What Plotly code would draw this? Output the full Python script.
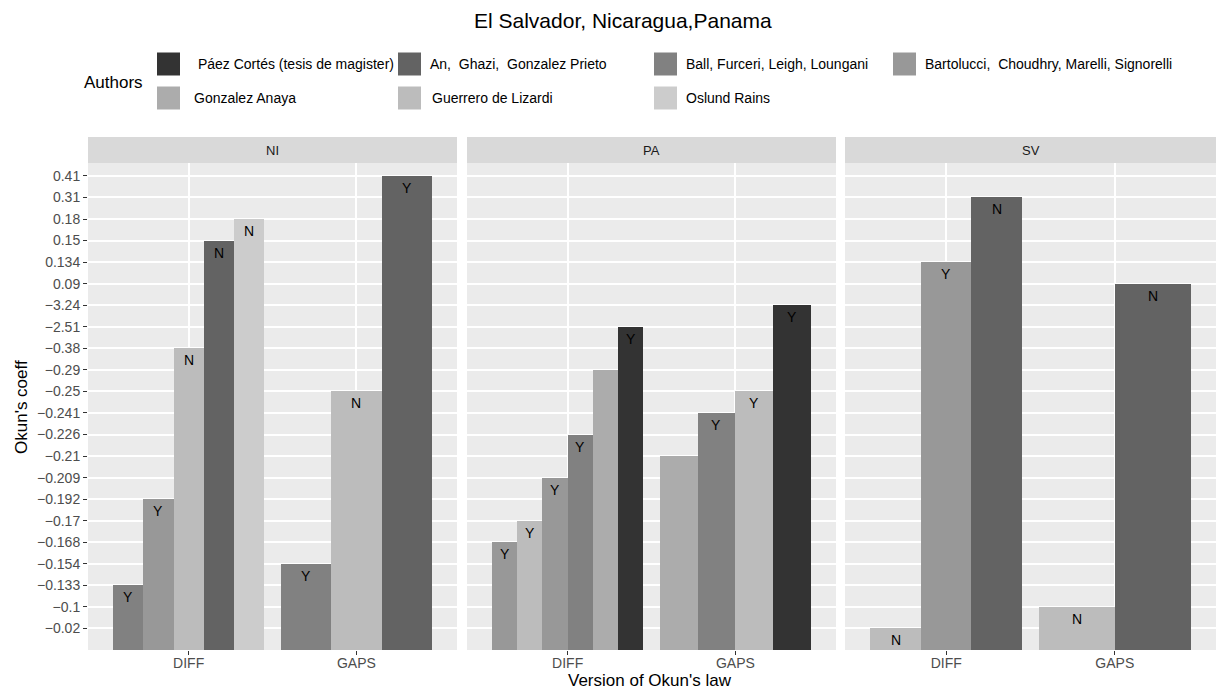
import plotly.graph_objects as go

# ---------------- data ----------------
TITLE = "El Salvador, Nicaragua,Panama"
countries = ["NI", "PA", "SV"]
versions = ["DIFF", "GAPS"]
authors = [
    " Páez Cortés (tesis de magister)",
    "An,\u00a0 Ghazi,\u00a0 Gonzalez Prieto",
    "Ball, Furceri, Leigh, Loungani",
    "Bartolucci,\u00a0 Choudhry, Marelli, Signorelli",
    "Gonzalez Anaya",
    "Guerrero de Lizardi",
    "Oslund Rains",
]
author_colors = ["#333333", "#636363", "#818181", "#989898", "#ACACAC", "#BCBCBC", "#CCCCCC"]

# y axis is categorical (coefficients stored as text, sorted as strings)
coef_levels = ["-0.02", "-0.1", "-0.133", "-0.154", "-0.168", "-0.17", "-0.192", "-0.209",
               "-0.21", "-0.226", "-0.241", "-0.25", "-0.29", "-0.38", "-2.51", "-3.24",
               "0.09", "0.134", "0.15", "0.18", "0.31", "0.41"]

bar_country = ["NI"] * 8 + ["PA"] * 10 + ["SV"] * 5
bar_version = (["DIFF"] * 5 + ["GAPS"] * 3 + ["DIFF"] * 6 + ["GAPS"] * 4
               + ["DIFF"] * 3 + ["GAPS"] * 2)
bar_author = [2, 3, 5, 1, 6, 2, 5, 1,
              3, 5, 3, 2, 4, 0, 4, 2, 5, 0,
              5, 3, 1, 5, 1]
bar_coef = ["-0.133", "-0.192", "-0.38", "0.15", "0.18", "-0.154", "-0.25", "0.41",
            "-0.168", "-0.17", "-0.209", "-0.226", "-0.29", "-2.51",
            "-0.21", "-0.241", "-0.25", "-3.24",
            "-0.02", "0.134", "0.31", "-0.1", "0.09"]
bar_signif = ["Y", "Y", "N", "N", "N", "Y", "N", "Y",
              "Y", "Y", "Y", "Y", "", "Y", "", "Y", "Y", "Y",
              "N", "Y", "N", "N", "N"]

# ---------------- layout helpers ----------------
W, H = 1218, 691
ML, MR, MT, MB = 88, 2, 163, 41
PW, PH = W - ML - MR, H - MT - MB
FONT = "Liberation Sans, Arial, Helvetica, sans-serif"


def fx(px):
    return (px - ML) / PW


def fy(py):
    return (H - MB - py) / PH


panel_px = [(88, 457), (467, 836), (845, 1216)]
domains = [[fx(a), fx(b)] for a, b in panel_px]

fig = go.Figure()
annotations = []
shapes = []


def note(x, y, text, size, color="#000000", xanchor="center", **kw):
    d = dict(x=x, y=y, xref="paper", yref="paper", text=text, showarrow=False,
             xanchor=xanchor, yanchor="middle",
             font=dict(size=size, color=color, family=FONT))
    d.update(kw)
    annotations.append(d)


for ci, country in enumerate(countries):
    xs, ys, ws, cols, texts = [], [], [], [], []
    for vi, ver in enumerate(versions):
        idx = [i for i in range(len(bar_country))
               if bar_country[i] == country and bar_version[i] == ver]
        n = len(idx)
        w = 0.9 / n
        for k, i in enumerate(idx):
            xs.append(vi + 1 + (k - (n - 1) / 2) * w)
            ys.append(coef_levels.index(bar_coef[i]) + 1)
            ws.append(w)
            cols.append(author_colors[bar_author[i]])
            texts.append(bar_signif[i])
    sfx = "" if ci == 0 else str(ci + 1)
    fig.add_trace(go.Bar(x=xs, y=ys, width=ws, marker=dict(color=cols, line=dict(width=0)),
                         xaxis="x" + sfx, yaxis="y" + sfx, showlegend=False,
                         hoverinfo="skip"))
    for x, y, t in zip(xs, ys, texts):
        if t:
            annotations.append(dict(x=x, y=y, xref="x" + sfx, yref="y" + sfx, text=t,
                                    showarrow=False, xanchor="center", yanchor="middle",
                                    yshift=-12,
                                    font=dict(size=14, color="#000000", family=FONT)))
    # strip
    shapes.append(dict(type="rect", xref="paper", yref="paper",
                       x0=domains[ci][0], x1=domains[ci][1], y0=fy(163), y1=fy(137),
                       fillcolor="#D9D9D9", line=dict(width=0), layer="below"))
    note((domains[ci][0] + domains[ci][1]) / 2, fy(150), country, 13, "#1A1A1A")

ticktext = [c.replace("-", "\u2212") for c in coef_levels]
axis_common = dict(showgrid=True, gridcolor="#FFFFFF", gridwidth=1.5, zeroline=False,
                   showline=False)
layout_axes = {}
for ci in range(3):
    sfx = "" if ci == 0 else str(ci + 1)
    layout_axes["xaxis" + sfx] = dict(
        domain=domains[ci], anchor="y" + sfx, range=[0.4, 2.6],
        tickvals=[1, 2], ticktext=versions, ticks="outside", ticklen=4,
        tickcolor="#333333", tickwidth=1, ticklabelstandoff=-4,
        tickfont=dict(size=14, color="#4D4D4D", family=FONT), **axis_common)
    layout_axes["yaxis" + sfx] = dict(
        domain=[0, 1], anchor="x" + sfx, range=[0, len(coef_levels) + 0.6],
        tickvals=list(range(1, len(coef_levels) + 1)), ticktext=ticktext,
        showticklabels=(ci == 0), ticks="outside" if ci == 0 else "", ticklen=4,
        tickcolor="#333333", tickwidth=1,
        tickfont=dict(size=14, color="#4D4D4D", family=FONT), **axis_common)

# title and axis titles
note(fx(623), fy(20), TITLE, 21)
note(fx(650), fy(680), "Version of Okun's law", 17)
note(fx(21), fy(407), "Okun's coeff", 17, textangle=-90)

# manual legend (ggplot-like large keys)
note(fx(82), fy(82), "Authors", 17, xanchor="left")
key_x = [157, 398, 654, 893]
text_x = [[192, 428, 684, 923], [192, 430, 684, 923]]
row_y = [64, 98]
KEY = 23
for i, name in enumerate(authors):
    r, c = divmod(i, 4)
    shapes.append(dict(type="rect", xref="paper", yref="paper",
                       x0=fx(key_x[c]), x1=fx(key_x[c] + KEY),
                       y0=fy(row_y[r] + KEY / 2), y1=fy(row_y[r] - KEY / 2),
                       fillcolor=author_colors[i], line=dict(width=0)))
    note(fx(text_x[r][c]), fy(row_y[r]), name, 14, xanchor="left")

fig.update_layout(
    width=W, height=H, margin=dict(l=ML, r=MR, t=MT, b=MB),
    paper_bgcolor="#FFFFFF", plot_bgcolor="#EBEBEB",
    bargap=0, showlegend=False,
    annotations=annotations, shapes=shapes,
    font=dict(family=FONT),
    **layout_axes,
)

fig.write_html("out.html", config={"displayModeBar": False},
               post_script="document.body.style.margin='0';document.body.style.overflow='hidden';")
